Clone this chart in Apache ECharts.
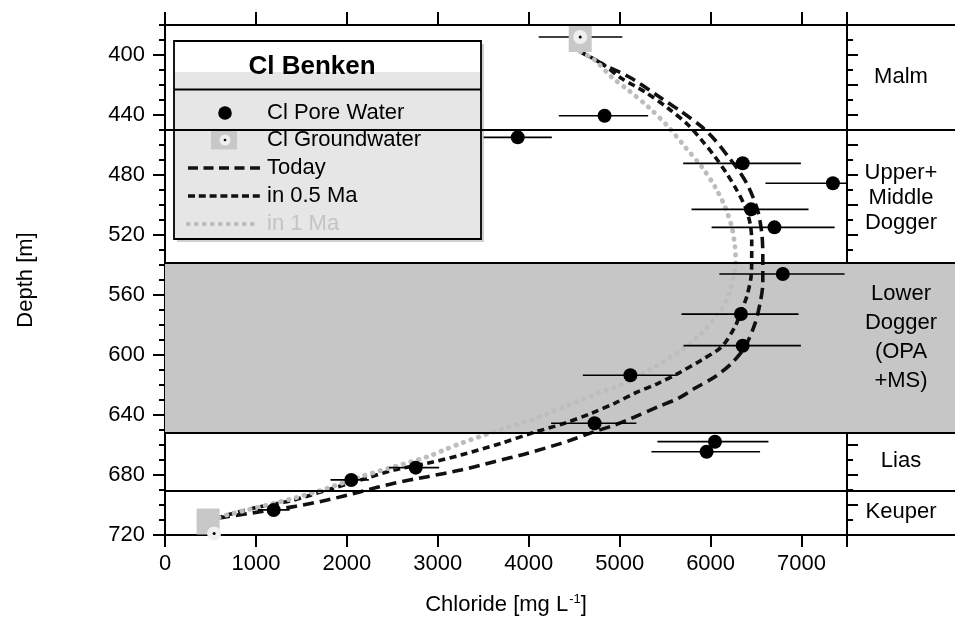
<!DOCTYPE html>
<html lang="en">
<head>
<meta charset="UTF-8">
<title>Cl Benken</title>
<style>
  * { margin: 0; padding: 0; }
  body { background: #fff; }
  #chart { width: 955px; height: 621px; }
</style>
</head>
<body>
<div id="chart"></div>
<script src="https://cdn.jsdelivr.net/npm/echarts@6/dist/echarts.min.js"></script>
<script>
  // Cl pore water samples (mg/L, depth m, error bar ends)
  const poreCl    = [4834, 3879, 6353, 7345, 6445, 6702, 6794, 6334, 6353, 5118, 4724, 6048, 5956, 2757, 2048, 1195];
  const poreDepth = [440.5, 454.9, 472.2, 485.5, 502.9, 514.9, 546.0, 572.7, 593.8, 613.5, 645.5, 657.8, 664.5, 675.1, 683.3, 703.3];
  const poreLo    = [4331, 3504, 5699, 6603, 5790, 6011, 6096, 5680, 5702, 4595, 4246, 5415, 5349, 2463, 1820, 1020];
  const poreHi    = [5313, 4254, 6993, 8090, 7077, 7364, 7474, 6967, 6993, 5625, 5184, 6636, 6544, 3015, 2242, 1370];

  // Cl groundwater (boundary values)
  const gwCl    = [4566, 540];
  const gwDepth = [388, 719];
  const gwLo    = [4110, 540];
  const gwHi    = [5029, 540];

  // model profiles
  const todayCl    = [4566, 4834, 5129, 5460, 5680, 5901, 6048, 6195, 6305, 6397, 6471, 6526, 6563, 6574, 6574, 6544, 6489, 6379, 6232, 6048, 5827, 5644, 5423, 5129, 4944, 4724, 4467, 4356, 3989, 3621, 3254, 2886, 2518, 2151, 1783, 1415, 1048, 680, 570];
  const todayDepth = [397.8, 406.7, 415.5, 428.9, 437.8, 447.8, 456.7, 467.8, 476.7, 485.5, 495.5, 505.5, 518.9, 532.2, 552.2, 565.5, 578.9, 594.5, 605.5, 614.5, 622.2, 628.9, 634.5, 642.2, 646.7, 651.1, 656.7, 658.9, 665.5, 671.1, 676.7, 681.1, 685.5, 691.1, 696.7, 701.1, 704.5, 707.8, 708.9];

  const halfCl    = [4566, 4798, 5018, 5276, 5533, 5754, 5901, 6048, 6176, 6287, 6379, 6434, 6452, 6452, 6445, 6397, 6342, 6268, 6121, 5901, 5644, 5423, 5165, 4944, 4687, 4393, 4026, 3695, 3254, 2886, 2518, 2151, 1783, 1415, 1048, 680, 570];
  const halfDepth = [397.8, 405.5, 415.5, 424.5, 435.5, 446.7, 456.7, 467.8, 478.9, 490.0, 501.1, 512.2, 523.3, 535.0, 547.8, 561.1, 570.0, 581.1, 594.5, 603.3, 612.2, 618.9, 625.5, 632.2, 638.9, 645.5, 652.2, 658.9, 666.7, 672.2, 676.7, 683.3, 690.0, 696.7, 701.1, 706.7, 708.9];

  const oneCl    = [4566, 4724, 4908, 5092, 5313, 5533, 5717, 5901, 6048, 6158, 6232, 6268, 6276, 6250, 6195, 6085, 5901, 5680, 5386, 5092, 4761, 4393, 4026, 3621, 3254, 3070, 2886, 2518, 2151, 1783, 1415, 1048, 680, 570];
  const oneDepth = [397.8, 403.3, 414.5, 423.3, 434.5, 447.8, 461.1, 474.5, 487.8, 501.1, 514.5, 527.8, 540.0, 547.8, 561.1, 572.2, 585.5, 596.7, 607.8, 617.8, 625.5, 634.5, 643.3, 651.1, 658.9, 663.3, 667.8, 674.5, 681.1, 688.9, 695.5, 701.1, 706.7, 708.9];

  // stratigraphy
  const layerBounds     = [450, 538.5, 652, 690.5];
  const opaBand         = [538.5, 652];
  const layerNames      = ['Malm', 'Upper+\nMiddle\nDogger', 'Lower\nDogger\n(OPA\n+MS)', 'Lias', 'Keuper'];
  const layerLabelDepth = [414.7, 495, 588, 670.7, 704.7];

  // axes
  const clTicks     = [0, 1000, 2000, 3000, 4000, 5000, 6000, 7000];
  const depthLabels = [400, 440, 480, 520, 560, 600, 640, 680, 720];
  const legendNames = ['Cl Pore Water', 'Cl Groundwater', 'Today', 'in 0.5 Ma', 'in 1 Ma'];

  const X_MAX = 7500, Y_MIN = 380, Y_MAX = 720;
  const range = (a, b, s) => { const r = []; for (let v = a; v <= b; v += s) r.push(v); return r; };
  const depthMinor = range(Y_MIN, Y_MAX, 10);
  const depthRight = range(Y_MIN, Y_MAX, 20);

  const FONT = "'Liberation Sans', Arial, Helvetica, sans-serif";
  const zip = (a, b) => a.map((v, i) => [v, b[i]]);

  const chart = echarts.init(document.getElementById('chart'));

  const frame = { lineStyle: { color: '#000', width: 2 } };
  const depthAxisBase = { type: 'value', inverse: true, min: Y_MIN, max: Y_MAX, splitLine: { show: false } };

  const layerMarkers = {
    markArea: {
      silent: true,
      itemStyle: { color: '#c6c6c6' },
      data: [[{ yAxis: opaBand[0] }, { yAxis: opaBand[1] }]]
    },
    markLine: {
      silent: true,
      symbol: ['none', 'none'],
      label: { show: false },
      lineStyle: { color: '#000', width: 1.8, type: 'solid' },
      data: layerBounds.map(d => ({ yAxis: d }))
    }
  };

  function renderBar(params, api) {
    const y = api.value(2);
    const a = api.coord([Math.max(0, api.value(0)), y]);
    const b = api.coord([Math.min(X_MAX, api.value(1)), y]);
    return {
      type: 'line',
      shape: { x1: a[0], y1: a[1], x2: b[0], y2: b[1] },
      style: { stroke: '#000', lineWidth: 1.7 }
    };
  }

  // legend box with title
  const LX = 174, LY = 41, LW = 307, LH = 198;
  const rowY = [113, 140, 168, 196, 224];
  const lineIcon = (y, color, dash, cap, w) => ({
    type: 'line', shape: { x1: 188, y1: y, x2: 260, y2: y },
    style: { stroke: color, lineWidth: w || 3.5, lineDash: dash, lineCap: cap || 'butt' }
  });
  const legendText = (i, color) => ({
    type: 'text', x: 267, y: rowY[i],
    style: { text: legendNames[i], fill: color, font: '22px ' + FONT, verticalAlign: 'middle' }
  });
  const legendGraphic = {
    type: 'group', z: 100,
    children: [
      { type: 'rect', shape: { x: LX + 3, y: LY + 3, width: LW, height: LH }, style: { fill: '#cfcfcf' } },
      { type: 'rect', shape: { x: LX, y: LY, width: LW, height: LH }, style: { fill: '#e6e6e6' } },
      { type: 'rect', shape: { x: LX, y: LY, width: LW, height: 31 }, style: { fill: '#fff' } },
      { type: 'text', x: 312, y: 67,
        style: { text: 'Cl Benken', fill: '#000', font: 'bold 26px ' + FONT, align: 'center', verticalAlign: 'middle' } },
      { type: 'line', shape: { x1: LX, y1: 89.5, x2: LX + LW, y2: 89.5 }, style: { stroke: '#000', lineWidth: 1.8 } },
      { type: 'rect', shape: { x: LX, y: LY, width: LW, height: LH }, style: { fill: 'none', stroke: '#000', lineWidth: 1.8 } },
      { type: 'circle', shape: { cx: 225, cy: rowY[0], r: 6.8 }, style: { fill: '#000' } },
      { type: 'rect', shape: { x: 211, y: rowY[1] - 9.5, width: 26, height: 19 }, style: { fill: '#c8c8c8' } },
      { type: 'circle', shape: { cx: 225, cy: rowY[1], r: 5.5 }, style: { fill: '#efefef' } },
      { type: 'circle', shape: { cx: 225, cy: rowY[1], r: 1.3 }, style: { fill: '#000' } },
      lineIcon(rowY[2], '#111', [10, 5.5]),
      lineIcon(rowY[3], '#111', [7, 3.8]),
      lineIcon(rowY[4], '#bdbdbd', [0.5, 7.5], 'round', 4.5),
      legendText(0, '#000'), legendText(1, '#000'), legendText(2, '#000'),
      legendText(3, '#000'), legendText(4, '#c4c4c4')
    ]
  };

  chart.setOption({
    animation: false,
    backgroundColor: '#fff',
    textStyle: { fontFamily: FONT },
    grid: [
      { left: 165, right: 108, top: 25, bottom: 86 },
      { left: 847, right: 0, top: 25, bottom: 86 }
    ],
    xAxis: [
      {
        gridIndex: 0, type: 'value', position: 'bottom', min: 0, max: X_MAX, interval: 1000,
        axisLine: frame,
        axisTick: { length: 12, lineStyle: { color: '#000', width: 2 } },
        axisLabel: { fontSize: 22, color: '#000', margin: 18, fontFamily: FONT,
          customValues: clTicks, formatter: v => String(v) },
        splitLine: { show: false },
        name: 'Chloride [mg L{sup|-1}]', nameLocation: 'middle', nameGap: 58,
        nameTextStyle: { fontSize: 22, color: '#000', fontFamily: FONT,
          rich: { sup: { fontSize: 13, color: '#000', verticalAlign: 'top', padding: [0, 0, 10, 1] } } }
      },
      {
        gridIndex: 0, type: 'value', position: 'top', min: 0, max: X_MAX, interval: 1000,
        axisLine: frame,
        axisTick: { length: 13, lineStyle: { color: '#000', width: 2 } },
        axisLabel: { show: false }, splitLine: { show: false }
      },
      {
        gridIndex: 1, type: 'value', position: 'bottom', min: 0, max: 1,
        axisLine: frame, axisTick: { show: false }, axisLabel: { show: false }, splitLine: { show: false }
      },
      {
        gridIndex: 1, type: 'value', position: 'top', min: 0, max: 1,
        axisLine: frame, axisTick: { show: false }, axisLabel: { show: false }, splitLine: { show: false }
      }
    ],
    yAxis: [
      Object.assign({}, depthAxisBase, {
        gridIndex: 0, position: 'left',
        axisLine: frame,
        axisTick: { length: 12, customValues: depthLabels, lineStyle: { color: '#000', width: 2 } },
        axisLabel: { fontSize: 22, color: '#000', margin: 20, fontFamily: FONT, customValues: depthLabels },
        name: 'Depth [m]', nameLocation: 'middle', nameGap: 128, nameRotate: 90,
        nameTextStyle: { fontSize: 22, color: '#000', fontFamily: FONT }
      }),
      Object.assign({}, depthAxisBase, {
        gridIndex: 0, position: 'left',
        axisLine: { show: false },
        axisTick: { length: 6, customValues: depthMinor, lineStyle: { color: '#000', width: 2 } },
        axisLabel: { show: false }
      }),
      Object.assign({}, depthAxisBase, {
        gridIndex: 0, position: 'right',
        axisLine: frame,
        axisTick: { length: 11, customValues: depthRight, lineStyle: { color: '#000', width: 2 } },
        axisLabel: { show: false }
      }),
      Object.assign({}, depthAxisBase, {
        gridIndex: 0, position: 'right',
        axisLine: { show: false },
        axisTick: { length: 6, customValues: depthMinor, lineStyle: { color: '#000', width: 2 } },
        axisLabel: { show: false }
      }),
      Object.assign({}, depthAxisBase, {
        gridIndex: 1, position: 'left', show: false
      })
    ],
    graphic: [legendGraphic],
    series: [
      Object.assign({
        name: 'layers', type: 'scatter', xAxisIndex: 0, yAxisIndex: 0, z: 1, silent: true, data: []
      }, layerMarkers),
      Object.assign({
        name: 'units', type: 'scatter', xAxisIndex: 2, yAxisIndex: 4, z: 1, silent: true,
        symbolSize: 0,
        data: layerLabelDepth.map((d, i) => ({
          value: [0.5, d],
          label: { lineHeight: i === 2 ? 29 : 25 }
        })),
        label: {
          show: true, position: 'inside', align: 'center', verticalAlign: 'middle',
          formatter: p => layerNames[p.dataIndex],
          fontSize: 22, lineHeight: 25, color: '#000', opacity: 1, fontFamily: FONT
        }
      }, layerMarkers),
      {
        name: legendNames[2], type: 'line', xAxisIndex: 0, yAxisIndex: 0, z: 3,
        data: zip(todayCl, todayDepth), showSymbol: false, smooth: 0.3,
        lineStyle: { color: '#111', width: 3.6, type: [11, 6] }
      },
      {
        name: legendNames[3], type: 'line', xAxisIndex: 0, yAxisIndex: 0, z: 3,
        data: zip(halfCl, halfDepth), showSymbol: false, smooth: 0.3,
        lineStyle: { color: '#111', width: 3.6, type: [7, 4.5] }
      },
      {
        name: legendNames[4], type: 'line', xAxisIndex: 0, yAxisIndex: 0, z: 3,
        data: zip(oneCl, oneDepth), showSymbol: false, smooth: 0.3,
        lineStyle: { color: '#bdbdbd', width: 4.8, type: [0.5, 7.5], cap: 'round' }
      },
      {
        name: 'error bars', type: 'custom', xAxisIndex: 0, yAxisIndex: 0, z: 4, silent: true,
        renderItem: renderBar,
        encode: { x: [0, 1], y: 2 },
        data: poreLo.map((lo, i) => [lo, poreHi[i], poreDepth[i]])
          .concat(gwLo.map((lo, i) => [lo, gwHi[i], gwDepth[i]]))
      },
      {
        name: legendNames[1], type: 'scatter', xAxisIndex: 0, yAxisIndex: 0, z: 5, clip: false,
        symbol: 'rect', symbolSize: [23, 26],
        itemStyle: { color: '#c8c8c8', opacity: 1 },
        data: zip(gwCl, gwDepth).map((v, i) => ({ value: v, symbolOffset: i === 0 ? [0, 2] : [-6, -12] }))
      },
      {
        name: 'gw ring', type: 'scatter', xAxisIndex: 0, yAxisIndex: 0, z: 6, clip: false,
        symbolSize: 14, itemStyle: { color: '#efefef', opacity: 1 },
        data: zip(gwCl, gwDepth)
      },
      {
        name: 'gw dot', type: 'scatter', xAxisIndex: 0, yAxisIndex: 0, z: 7, clip: false,
        symbolSize: 3, itemStyle: { color: '#000', opacity: 1 },
        data: zip(gwCl, gwDepth)
      },
      {
        name: legendNames[0], type: 'scatter', xAxisIndex: 0, yAxisIndex: 0, z: 8,
        symbolSize: 14, itemStyle: { color: '#000', opacity: 1 },
        data: zip(poreCl, poreDepth)
      }
    ]
  });

  window.addEventListener('resize', () => chart.resize());
</script>
</body>
</html>
